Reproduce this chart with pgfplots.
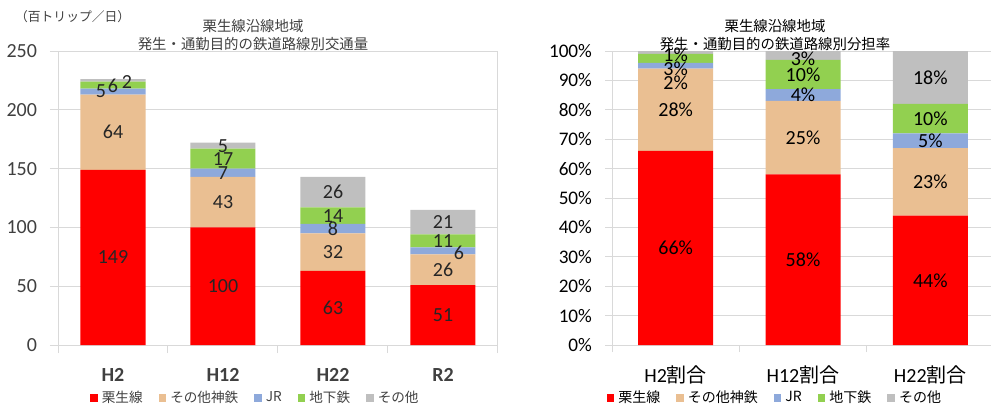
\documentclass[border=0pt]{standalone}
\usepackage{pgfplots}
\pgfplotsset{compat=1.18}
\usepackage{pgfplotstable}
\usepackage{fontspec}
\setmainfont{Carlito}
\newfontfamily\jp{Noto Sans CJK JP}
\definecolor{cRed}{HTML}{FF0000}
\definecolor{cOra}{HTML}{EABF92}
\definecolor{cBlu}{HTML}{8EA9DB}
\definecolor{cGrn}{HTML}{92D050}
\definecolor{cGry}{HTML}{BFBFBF}
\definecolor{gridc}{HTML}{D9D9D9}
\definecolor{txtg}{HTML}{404040}

\pgfplotstableread{
x red ora blu grn gry
0 149 64 5 6 2
1 100 43 7 17 5
2 63 32 8 14 26
3 51 26 6 11 21
}\Lbars

\pgfplotstableread{
x red ora blu grn gry
0 66 28 2 3 1
1 58 25 4 10 3
2 44 23 5 10 18
}\Rbars

\pgfplotstableread{
x y lbl dx dy
0 74.5 149 0 0
0 181 64 0 0
0 215.5 5 -6 0
0 221 6 0 -0.5
0 225 2 7 -0.7
1 50 100 0 0
1 121.5 43 0 0
1 146.5 7 0 0
1 158.5 17 0 0
1 169.5 5 0 0
2 31.5 63 0 0
2 79 32 0 0
2 99 8 0 0
2 110 14 0 0
2 130 26 0 0
3 25.5 51 0 0
3 64 26 0 0
3 80 6 8 -1
3 88.5 11 0 0
3 104.5 21 0 0
}\Llab

\pgfplotstableread{
x y lbl dx dy
0 33 66 0 0
0 80 28 0 0
0 95 2 0 -8.5
0 97.5 3 0 -5.3
0 99.5 1 0 -1.25
1 29 58 0 0
1 70.5 25 0 0
1 85 4 0 0
1 92 10 0 0
1 98.5 3 0 -1.5
2 22 44 0 0
2 55.5 23 0 0
2 69.5 5 0 0
2 77 10 0 0
2 91 18 0 0
}\Rlab

\pgfplotsset{
  sqlegend/.style={
    legend image code/.code={\fill[##1,draw=none] (0pt,-1.9pt) rectangle (3.8pt,1.9pt);},
  },
}

\begin{document}
\begin{tikzpicture}
\useasboundingbox (0,0) rectangle (495.5pt,201.5pt);

% ---------------- LEFT CHART ----------------
\begin{axis}[
  at={(29pt,29pt)}, anchor=south west,
  width=220pt, height=147pt, scale only axis,
  ybar stacked, bar width=32.5pt,
  xmin=-0.5, xmax=3.5, ymin=0, ymax=250,
  ytick={0,50,...,250},
  ymajorgrids, grid style={gridc, line width=0.5pt},
  xtick pos=lower, ytick pos=left,
  axis line style={gridc, line width=0.5pt},
  tick align=outside, major tick length=4pt,
  tick style={gridc, line width=0.5pt},
  xtick={-0.5,0.5,1.5,2.5,3.5}, xticklabels={},
  extra x ticks={0,1,2,3}, extra x tick labels={H2,H12,H22,R2},
  extra x tick style={major tick length=0pt,
     xticklabel style={font=\fontsize{10}{12}\selectfont\bfseries, text=txtg, yshift=-8pt}},
  /pgf/number format/assume math mode=true,
  yticklabel style={font=\fontsize{10}{12}\selectfont, text=txtg, xshift=-3pt},
  sqlegend,
  legend columns=5,
  legend style={draw=none, fill=none, at={(0.451,-0.18)}, anchor=center,
     font=\jp\fontsize{6.8}{8}\selectfont, text=txtg, inner sep=0pt,
     /tikz/every even column/.append style={column sep=6pt}},
]
\addplot[fill=cRed, draw=none] table[x=x,y=red]{\Lbars};
\addplot[fill=cOra, draw=none] table[x=x,y=ora]{\Lbars};
\addplot[fill=cBlu, draw=none] table[x=x,y=blu]{\Lbars};
\addplot[fill=cGrn, draw=none] table[x=x,y=grn]{\Lbars};
\addplot[fill=cGry, draw=none] table[x=x,y=gry]{\Lbars};
\legend{栗生線,その他神鉄,JR,地下鉄,その他}
\end{axis}
\begin{axis}[
  at={(29pt,29pt)}, anchor=south west,
  width=220pt, height=147pt, scale only axis, hide axis,
  xmin=-0.5, xmax=3.5, ymin=0, ymax=250,
  /pgf/number format/assume math mode=true,
]
\addplot[only marks, mark=none,
  point meta=\thisrow{lbl},
  visualization depends on={\thisrow{dx}\as\dx},
  visualization depends on={\thisrow{dy}\as\dy},
  nodes near coords={\pgfmathprintnumber{\pgfplotspointmeta}},
  every node near coord/.append style={anchor=center, inner sep=0pt,
     xshift=\dx pt, yshift=\dy pt, font=\fontsize{10}{12}\selectfont, text=black!85}]
  table[x=x,y=y]{\Llab};
\end{axis}

\node[anchor=west, font=\jp\fontsize{6.4}{8}\selectfont, text=txtg] at (4pt,193pt) {（百トリップ／日）};
\node[align=center, font=\jp\fontsize{7.2}{9}\selectfont, text=txtg] at (126.5pt,184pt)
  {栗生線沿線地域\\発生・通勤目的の鉄道路線別交通量};

% ---------------- RIGHT CHART ----------------
\begin{axis}[
  at={(306pt,29pt)}, anchor=south west,
  width=191pt, height=147pt, scale only axis,
  ybar stacked, bar width=37.5pt,
  xmin=-0.5, xmax=2.5, ymin=0, ymax=100,
  ytick={0,10,...,100},
  yticklabel={\pgfmathprintnumber{\tick}\%},
  ymajorgrids, grid style={gridc, line width=0.5pt},
  axis x line*=bottom, axis y line*=left,
  axis line style={gridc, line width=0.5pt},
  tick align=outside, major tick length=3.5pt,
  tick style={gridc, line width=0.5pt},
  xtick={-0.5,0.5,1.5,2.5}, xticklabels={},
  extra x ticks={0,1,2}, extra x tick labels={H2{\jp 割合},H12{\jp 割合},H22{\jp 割合}},
  extra x tick style={major tick length=0pt,
     xticklabel style={font=\fontsize{10}{12}\selectfont, text=black, yshift=-7pt}},
  /pgf/number format/assume math mode=true,
  yticklabel style={font=\fontsize{9.6}{12}\selectfont, text=black, xshift=-3pt},
  sqlegend,
  legend columns=5,
  legend style={draw=none, fill=none, at={(0.429,-0.18)}, anchor=center,
     font=\jp\fontsize{7}{8}\selectfont, text=black, inner sep=0pt,
     /tikz/every even column/.append style={column sep=6pt}},
]
\addplot[fill=cRed, draw=none] table[x=x,y=red]{\Rbars};
\addplot[fill=cOra, draw=none] table[x=x,y=ora]{\Rbars};
\addplot[fill=cBlu, draw=none] table[x=x,y=blu]{\Rbars};
\addplot[fill=cGrn, draw=none] table[x=x,y=grn]{\Rbars};
\addplot[fill=cGry, draw=none] table[x=x,y=gry]{\Rbars};
\legend{栗生線,その他神鉄,JR,地下鉄,その他}
\end{axis}
\begin{axis}[
  at={(306pt,29pt)}, anchor=south west,
  width=191pt, height=147pt, scale only axis, hide axis,
  xmin=-0.5, xmax=2.5, ymin=0, ymax=100,
  /pgf/number format/assume math mode=true,
]
\addplot[only marks, mark=none,
  point meta=\thisrow{lbl},
  visualization depends on={\thisrow{dx}\as\dx},
  visualization depends on={\thisrow{dy}\as\dy},
  nodes near coords={\pgfmathprintnumber{\pgfplotspointmeta}\%},
  every node near coord/.append style={anchor=center, inner sep=0pt,
     xshift=\dx pt, yshift=\dy pt, font=\fontsize{10}{12}\selectfont, text=black}]
  table[x=x,y=y]{\Rlab};
\end{axis}

\node[align=center, font=\jp\fontsize{7.2}{9}\selectfont, text=black] at (387.5pt,184pt)
  {栗生線沿線地域\\発生・通勤目的の鉄道路線別分担率};
\end{tikzpicture}
\end{document}
